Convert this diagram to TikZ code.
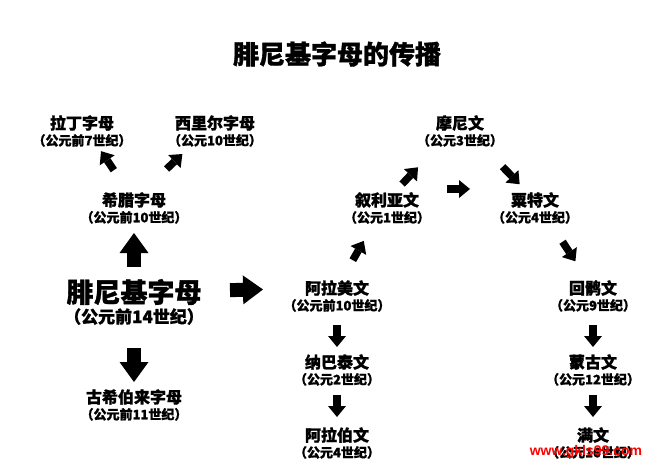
\documentclass[tikz,border=0pt]{standalone}
\usepackage{fontspec}
\setmainfont{Noto Sans CJK SC}[BoldFeatures={FakeBold=1.2}]
\newfontfamily\marksf{Liberation Sans}
\usetikzlibrary{arrows.meta,positioning}
\begin{document}
\begin{tikzpicture}[x=1pt,y=-1pt,every node/.style={inner sep=1pt},
    lbl/.style={font=\fontsize{16}{16}\selectfont\bfseries},
    era/.style={font=\fontsize{13}{13}\selectfont\bfseries},
    bigarr/.style={line width=14pt,-{Triangle[length=20pt,width=29pt,line width=0pt]}},
    smallarr/.style={line width=7.5pt,-{Triangle[length=11pt,width=18pt,line width=0pt]}}]
    \useasboundingbox[fill=white] (0,0) rectangle (658,467);
    \node[font=\fontsize{26}{26}\selectfont\bfseries] (title) at (337,54) {腓尼基字母的传播};
    % left branch
    \node[lbl] (latin) at (82,123) {拉丁字母};
    \node[era,below=1pt of latin] (latind) {（公元前7世纪）};
    \node[lbl] (cyril) at (215,123) {西里尔字母};
    \node[era,below=1pt of cyril] (cyrild) {（公元10世纪）};
    \node[lbl] (greek) at (134,200) {希腊字母};
    \node[era,below=1pt of greek] (greekd) {（公元前10世纪）};
    \node[font=\fontsize{27}{27}\selectfont\bfseries] (phoen) at (134,292) {腓尼基字母};
    \node[font=\fontsize{17}{17}\selectfont\bfseries,below=1pt of phoen] (phoend) {（公元前14世纪）};
    \node[lbl] (hebrew) at (134,397) {古希伯来字母};
    \node[era,below=1pt of hebrew] (hebrewd) {（公元前11世纪）};
    % right branch
    \node[lbl] (mani) at (460,123) {摩尼文};
    \node[era,below=1pt of mani] (manid) {（公元3世纪）};
    \node[lbl] (syriac) at (387,200) {叙利亚文};
    \node[era,below=1pt of syriac] (syriacd) {（公元1世纪）};
    \node[lbl] (sogd) at (535,200) {粟特文};
    \node[era,below=1pt of sogd] (sogdd) {（公元4世纪）};
    \node[lbl] (aram) at (337,288) {阿拉美文};
    \node[era,below=1pt of aram] (aramd) {（公元前10世纪）};
    \node[lbl] (nabat) at (337,362) {纳巴泰文};
    \node[era,below=1pt of nabat] (nabatd) {（公元2世纪）};
    \node[lbl] (arab) at (337,435) {阿拉伯文};
    \node[era,below=1pt of arab] (arabd) {（公元4世纪）};
    \node[lbl] (uyghur) at (593,288) {回鹘文};
    \node[era,below=1pt of uyghur] (uyghurd) {（公元9世纪）};
    \node[lbl] (mongol) at (593,362) {蒙古文};
    \node[era,below=1pt of mongol] (mongold) {（公元12世纪）};
    \node[lbl] (manchu) at (593,435) {满文};
    \node[era,below=1pt of manchu] (manchud) {（公元16世纪）};
    % arrows
    \draw[smallarr,shorten <=36pt,shorten >=34pt] (greek.center) -- (latin.center);
    \draw[smallarr,shorten <=45pt,shorten >=45pt] (greek.center) -- (cyril.center);
    \draw[bigarr,shorten <=25pt,shorten >=33pt] (phoen.center) -- (greek.center);
    \draw[bigarr,shorten <=56pt,shorten >=15pt] (phoen.center) -- (hebrew.center);
    \draw[bigarr,shorten <=96pt,shorten >=74pt] (phoen.center) -- (aram.center);
    \draw[smallarr,shorten <=32pt,shorten >=47pt] (aram.center) -- (syriac.center);
    \draw[smallarr,shorten <=22pt,shorten >=61pt] (syriac.center) -- (mani.center);
    \draw[smallarr,shorten <=61pt,shorten >=22pt] (mani.center) -- (sogd.center);
    \draw[smallarr,shorten <=60pt,shorten >=65pt] ([yshift=11pt]syriac.center) -- ([yshift=11pt]sogd.center);
    \draw[smallarr,shorten <=50pt,shorten >=32pt] (sogd.center) -- (uyghur.center);
    \draw[smallarr,shorten <=37pt,shorten >=15pt] (aram.center) -- (nabat.center);
    \draw[smallarr,shorten <=33pt,shorten >=18pt] (nabat.center) -- (arab.center);
    \draw[smallarr,shorten <=37pt,shorten >=15pt] (uyghur.center) -- (mongol.center);
    \draw[smallarr,shorten <=33pt,shorten >=18pt] (mongol.center) -- (manchu.center);
    \node[text=red,font=\fontsize{14}{14}\selectfont\bfseries\marksf] (mark) at (586,452) {www.gkls99.com};
\end{tikzpicture}
\end{document}
